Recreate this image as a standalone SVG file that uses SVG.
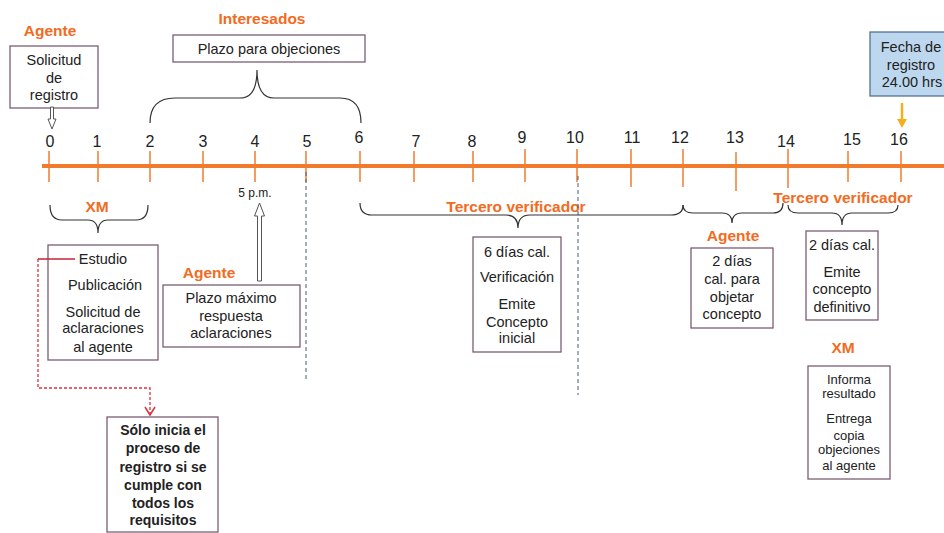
<svg xmlns="http://www.w3.org/2000/svg" width="944" height="533" viewBox="0 0 944 533">
<style>
text{font-family:"Liberation Sans",Arial,sans-serif;fill:#222;text-anchor:middle}
.num{font-size:16px}
.t{font-size:14.5px}
.s{font-size:13px}
.b{font-size:14px;font-weight:bold}
.or{fill:#F26B21;font-weight:bold;font-size:15.5px}
.box{fill:#fff;stroke:#7b5c72;stroke-width:1.3}
.tick{stroke:#F07B2C;stroke-width:1.5}
.brace{fill:none;stroke:#333;stroke-width:1.2}
.dash{stroke:#4a5a7a;stroke-width:1;stroke-dasharray:4 3;fill:none}
.hollow{fill:#fff;stroke:#555;stroke-width:1}
</style>
<rect width="944" height="533" fill="#fff"/>

<g id="timeline">
<line x1="42" y1="166" x2="944" y2="166" stroke="#F07B2C" stroke-width="4"/>
<line class="tick" x1="49" y1="151" x2="49" y2="182"/>
<line class="tick" x1="98" y1="151" x2="98" y2="182"/>
<line class="tick" x1="150" y1="151" x2="150" y2="182"/>
<line class="tick" x1="203" y1="151" x2="203" y2="182"/>
<line class="tick" x1="255" y1="151" x2="255" y2="182"/>
<line class="tick" x1="306" y1="151" x2="306" y2="182"/>
<line class="tick" x1="360" y1="151" x2="360" y2="182"/>
<line class="tick" x1="414" y1="151" x2="414" y2="182"/>
<line class="tick" x1="473" y1="151" x2="473" y2="182"/>
<line class="tick" x1="525" y1="149" x2="525" y2="182"/>
<line class="tick" x1="577" y1="149" x2="577" y2="182"/>
<line class="tick" x1="631" y1="149" x2="631" y2="187"/>
<line class="tick" x1="683" y1="149" x2="683" y2="187"/>
<line class="tick" x1="736" y1="152" x2="736" y2="191"/>
<line class="tick" x1="788" y1="149" x2="788" y2="188"/>
<line class="tick" x1="848" y1="151" x2="848" y2="182"/>
<line class="tick" x1="901" y1="151" x2="901" y2="182"/>
<text class="num" x="50" y="147">0</text>
<text class="num" x="97" y="147">1</text>
<text class="num" x="150" y="147">2</text>
<text class="num" x="203" y="147">3</text>
<text class="num" x="255" y="147">4</text>
<text class="num" x="307" y="147">5</text>
<text class="num" x="359" y="143">6</text>
<text class="num" x="416" y="147">7</text>
<text class="num" x="472" y="147">8</text>
<text class="num" x="522" y="143">9</text>
<text class="num" x="575" y="143">10</text>
<text class="num" x="632" y="143">11</text>
<text class="num" x="680" y="143">12</text>
<text class="num" x="735" y="143">13</text>
<text class="num" x="786" y="147">14</text>
<text class="num" x="852" y="145">15</text>
<text class="num" x="899" y="145">16</text>
<text x="255" y="197" style="font-size:12px">5 p.m.</text>
</g>

<g id="agente-solicitud">
<text class="or" x="50" y="36">Agente</text>
<rect class="box" x="10" y="46" width="88" height="62"/>
<text class="t" x="54" y="65">Solicitud</text>
<text class="t" x="54" y="83">de</text>
<text class="t" x="54" y="100">registro</text>
</g>

<g id="interesados">
<text class="or" x="262" y="24">Interesados</text>
<rect class="box" x="173" y="35" width="192" height="27"/>
<text class="t" x="269" y="54">Plazo para objeciones</text>
</g>

<g id="fecha-registro">
<rect x="870" y="32" width="80" height="64" fill="#BDD7EE" stroke="#44698f" stroke-width="1.2"/>
<text class="t" x="911" y="52">Fecha de</text>
<text class="t" x="911" y="70">registro</text>
<text class="t" x="912" y="87">24.00 hrs</text>
</g>

<g id="xm-estudio">
<text class="or" x="97" y="212">XM</text>
<rect class="box" x="48" y="245" width="110" height="115"/>
<text class="t" x="103" y="264">Estudio</text>
<text class="t" x="105" y="290">Publicación</text>
<text class="t" x="103" y="317">Solicitud de</text>
<text class="t" x="103" y="333">aclaraciones</text>
<text class="t" x="103" y="352">al agente</text>
</g>

<g id="solo-inicia">
<rect class="box" x="107" y="417" width="111" height="115"/>
<text class="b" x="163" y="435">Sólo inicia el</text>
<text class="b" x="163" y="453">proceso de</text>
<text class="b" x="163" y="472">registro si se</text>
<text class="b" x="163" y="490">cumple con</text>
<text class="b" x="163" y="508">todos los</text>
<text class="b" x="163" y="525">requisitos</text>
</g>

<g id="agente-plazo">
<text class="or" x="209" y="278">Agente</text>
<rect class="box" x="163" y="285" width="137" height="62"/>
<text class="t" x="231" y="303">Plazo máximo</text>
<text class="t" x="231" y="321">respuesta</text>
<text class="t" x="231" y="338">aclaraciones</text>
</g>

<g id="tercero-verificador-1">
<text class="or" x="516" y="212">Tercero verificador</text>
<rect class="box" x="473" y="237" width="88" height="115"/>
<text class="t" x="517" y="257">6 días cal.</text>
<text class="t" x="517" y="282">Verificación</text>
<text class="t" x="517" y="309">Emite</text>
<text class="t" x="517" y="327">Concepto</text>
<text class="t" x="517" y="343">inicial</text>
</g>

<g id="agente-objetar">
<text class="or" x="733" y="241">Agente</text>
<rect class="box" x="691" y="248" width="82" height="80"/>
<text class="t" x="732" y="266">2 días</text>
<text class="t" x="732" y="284">cal. para</text>
<text class="t" x="732" y="302">objetar</text>
<text class="t" x="732" y="319">concepto</text>
</g>

<g id="tercero-verificador-2">
<text class="or" x="843" y="203">Tercero verificador</text>
<rect class="box" x="806" y="231" width="72" height="89"/>
<text class="t" x="842" y="250">2 días cal.</text>
<text class="t" x="842" y="277">Emite</text>
<text class="t" x="842" y="294">concepto</text>
<text class="t" x="842" y="312">definitivo</text>
</g>

<g id="xm-informa">
<text class="or" x="843" y="353">XM</text>
<rect class="box" x="808" y="366" width="82" height="113"/>
<text class="s" x="849" y="384">Informa</text>
<text class="s" x="849" y="398">resultado</text>
<text class="s" x="849" y="423">Entrega</text>
<text class="s" x="849" y="440">copia</text>
<text class="s" x="849" y="454">objeciones</text>
<text class="s" x="849" y="470">al agente</text>
</g>

<g id="connectors">
<line class="dash" x1="306" y1="172" x2="306" y2="380"/>
<line class="dash" x1="578" y1="176" x2="578" y2="395"/>
<path class="brace" d="M150,123 Q150,98 175,98 L240,98 Q257,98 257,70 Q257,98 274,98 L340,98 Q361,98 361,123"/>
<path class="brace" d="M50,205 Q50,220 62,220 L88,220 Q98,220 98,233 Q98,220 108,220 L136,220 Q148,220 148,205"/>
<path class="brace" d="M360,203 Q360,215 372,215 L506,215 Q518,215 518,228 Q518,215 530,215 L671,215 Q683,215 683,205"/>
<path class="brace" d="M683,205 Q683,213 693,213 L722,213 Q732,213 732,223 Q732,213 742,213 L773,213 Q783,213 783,203"/>
<path class="brace" d="M788,205 Q788,213 798,213 L832,213 Q842,213 842,225 Q842,213 852,213 L888,213 Q898,213 898,205"/>
<path class="hollow" d="M50.5,107 L53.5,107 L53.5,119 L56,119 L52,129 L48,119 L50.5,119 Z"/>
<path class="hollow" d="M257.5,281 L261.5,281 L261.5,216 L264.5,216 L259.5,203 L254.5,216 L257.5,216 Z"/>
<path d="M75,259 L38,259" fill="none" stroke="#c8203a" stroke-width="1.3"/>
<path d="M38,259 L38,388 L150,388 L150,414" fill="none" stroke="#e0303a" stroke-width="1.3" stroke-dasharray="3 2"/>
<path d="M145,407 L150,415 L155,407" fill="none" stroke="#e0303a" stroke-width="1.5"/>
<line x1="902" y1="103" x2="902" y2="122" stroke="#F2B01E" stroke-width="2.5"/>
<path d="M897,119 L902,128 L907,119 Z" fill="#F2B01E"/>
</g>
</svg>
